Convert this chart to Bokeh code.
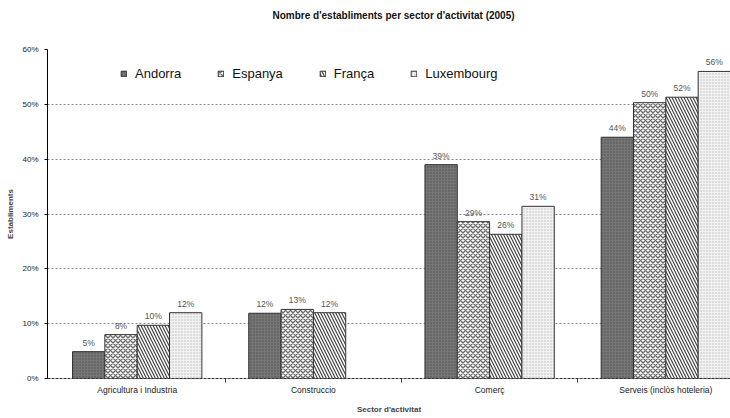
from bokeh.plotting import figure
from bokeh.models import FixedTicker, Legend, LegendItem, Range1d, Title
from bokeh.embed import file_html
from bokeh.resources import INLINE
from bokeh.core.properties import value

categories = ["Agricultura i Industria", "Construccio", "Comerç", "Serveis (inclòs hoteleria)"]
series = ["Andorra", "Espanya", "França", "Luxembourg"]
andorra = [4.9, 11.9, 39.0, 44.0]
espanya = [8.0, 12.6, 28.6, 50.3]
franca = [9.7, 12.0, 26.3, 51.3]
luxembourg = [12.0, None, 31.4, 56.0]
labels_andorra = ["5%", "12%", "39%", "44%"]
labels_espanya = ["8%", "13%", "29%", "50%"]
labels_franca = ["10%", "12%", "26%", "52%"]
labels_luxembourg = ["12%", None, "31%", "56%"]
y_ticks = [0, 10, 20, 30, 40, 50, 60]
y_tick_labels = ["0%", "10%", "20%", "30%", "40%", "50%", "60%"]
title_text = "Nombre d'establiments per sector d'activitat (2005)"

FONT = "Liberation Sans"
BW = 0.1835

p = figure(width=730, height=418, x_range=Range1d(-0.009, 3.867), y_range=Range1d(0, 60),
           output_backend="svg", toolbar_location=None,
           min_border_left=47, min_border_right=0, min_border_top=49, min_border_bottom=40)
p.background_fill_color = "white"
p.border_fill_color = "white"
p.outline_line_color = None

p.title.text = ""
p.title.text_font_size = "1px"
p.title.standoff = 0

# spacer between the frame and the title, then the title itself (farther out)
p.add_layout(Title(text=" ", text_font=FONT, text_font_size="24.5px", standoff=0), "above")
p.add_layout(Title(text=title_text, text_font=FONT, text_font_size="10px", text_font_style="bold",
                   text_color="#111111", align="left", offset=225, standoff=0), "above")

styles = [
    dict(fill_color="#767676", hatch_pattern="dot", hatch_color="#4e4e4e", hatch_scale=3, hatch_weight=1),
    dict(fill_color="white", hatch_pattern="diagonal_cross", hatch_color="#6a6a6a", hatch_scale=5, hatch_weight=1.4),
    dict(fill_color="white", hatch_pattern="left_diagonal_line", hatch_color="#444444", hatch_scale=6, hatch_weight=1.2),
    dict(fill_color="#f1f1f1", hatch_pattern="dot", hatch_color="#bdbdbd", hatch_scale=3, hatch_weight=1),
]
all_vals = [andorra, espanya, franca, luxembourg]
all_labels = [labels_andorra, labels_espanya, labels_franca, labels_luxembourg]
offsets = [-1.5 * BW, -0.5 * BW, 0.5 * BW, 1.5 * BW]

items = []
for s, name in enumerate(series):
    xs, tops, labs = [], [], []
    for i, v in enumerate(all_vals[s]):
        if v is None:
            continue
        xs.append(i + 0.5 + offsets[s])
        tops.append(v)
        labs.append(all_labels[s][i])
    r = p.vbar(x=xs, top=tops, bottom=0, width=BW, line_color="#333333", line_width=1, **styles[s])
    p.text(x=xs, y=tops, text=labs, text_align="center", text_baseline="bottom", y_offset=-4,
           text_font_size="8.5px", text_color="#555555", text_font=value(FONT))
    items.append(LegendItem(label=name, renderers=[r]))

legend = Legend(items=items, orientation="horizontal", location=(73, 297),
                border_line_color=None, background_fill_alpha=0,
                label_text_font=FONT, label_text_font_size="13px", label_text_color="#111111",
                glyph_width=7, glyph_height=7, label_height=14, label_width=10,
                spacing=36, label_standoff=8, padding=0, margin=0)
p.add_layout(legend)

# y axis
p.yaxis.ticker = FixedTicker(ticks=y_ticks, minor_ticks=[])
p.yaxis.major_label_overrides = {t: l for t, l in zip(y_ticks, y_tick_labels)}
p.yaxis.major_label_text_font = FONT
p.yaxis.major_label_text_font_size = "8px"
p.yaxis.major_label_text_color = "#222222"
p.yaxis.major_tick_out = 3
p.yaxis.major_tick_in = 0
p.yaxis.major_label_standoff = 6
p.yaxis.axis_line_color = "black"
p.yaxis.axis_label = "Establiments"
p.yaxis.axis_label_text_font = FONT
p.yaxis.axis_label_text_font_size = "8px"
p.yaxis.axis_label_text_font_style = "bold"
p.yaxis.axis_label_standoff = 4

# x axis
p.xaxis.ticker = FixedTicker(ticks=[0.5, 1.5, 2.5, 3.5], minor_ticks=[1, 2, 3])
p.xaxis.major_label_overrides = {0.5: categories[0], 1.5: categories[1], 2.5: categories[2], 3.5: categories[3]}
p.xaxis.major_label_text_font = FONT
p.xaxis.major_label_text_font_size = "8.5px"
p.xaxis.major_label_text_color = "#222222"
p.xaxis.major_tick_line_color = None
p.xaxis.major_tick_out = 0
p.xaxis.major_tick_in = 0
p.xaxis.minor_tick_out = 4
p.xaxis.minor_tick_in = 0
p.xaxis.minor_tick_line_color = "#333333"
p.xaxis.major_label_standoff = 2
p.xaxis.axis_line_color = "#333333"
p.xaxis.axis_line_dash = "3 1"
p.xaxis.axis_label = "Sector d'activitat"
p.xaxis.axis_label_text_font = FONT
p.xaxis.axis_label_text_font_size = "8px"
p.xaxis.axis_label_text_font_style = "bold"
p.xaxis.axis_label_standoff = 7

p.xgrid.grid_line_color = None
p.ygrid.ticker = FixedTicker(ticks=y_ticks)
p.ygrid.grid_line_color = "#888888"
p.ygrid.grid_line_dash = "2 2"
p.ygrid.grid_line_width = 1

open("out.html", "w").write(file_html(p, INLINE))
